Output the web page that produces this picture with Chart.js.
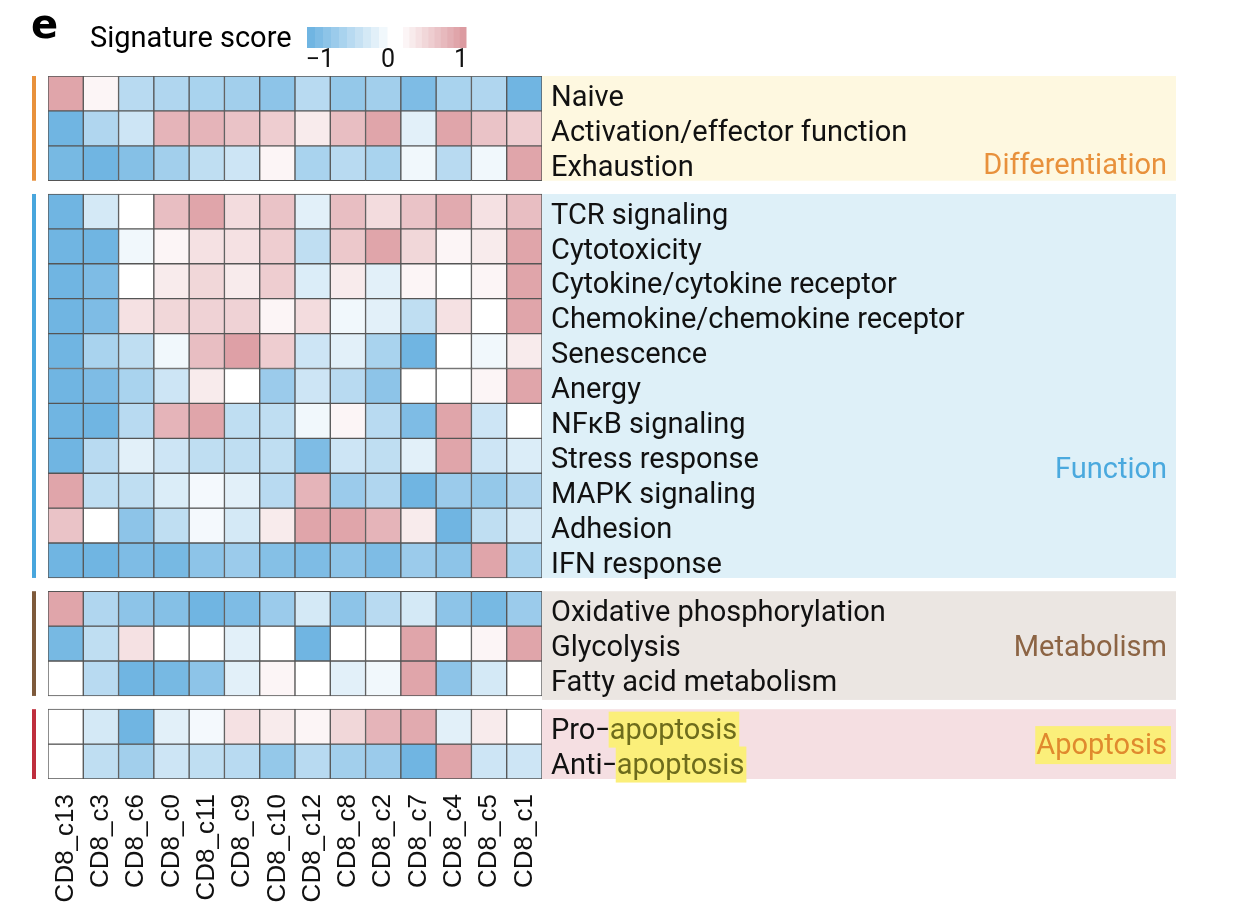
<!DOCTYPE html>
<html><head><meta charset="utf-8">
<script src="https://cdn.jsdelivr.net/npm/chart.js@4/dist/chart.umd.min.js"></script>
<style>html,body{margin:0;padding:0;background:#fff}#wrap{width:1246px;height:924px;position:relative}</style>
</head><body><div id="wrap"><canvas id="c" width="1246" height="924"></canvas></div>
<script>
// ---------------- DATA ----------------
const clusters = ["CD8_c13","CD8_c3","CD8_c6","CD8_c0","CD8_c11","CD8_c9","CD8_c10","CD8_c12","CD8_c8","CD8_c2","CD8_c7","CD8_c4","CD8_c5","CD8_c1"];
const groupNames = ["Differentiation","Function","Metabolism","Apoptosis"];

const differentiationRows = ["Naive","Activation/effector function","Exhaustion"];
const differentiationScores = [
  [0.9, 0.1,-0.5,-0.55,-0.6,-0.65,-0.8,-0.5,-0.75,-0.65,-0.9,-0.6,-0.55,-1],
  [-1,-0.55,-0.35,0.75,0.75,0.6,0.5,0.2,0.65,0.9,-0.2,0.9,0.6,0.5],
  [-0.95,-1,-0.85,-0.65,-0.45,-0.35,0.1,-0.6,-0.5,-0.6,-0.1,-0.5,-0.1,0.9]
];

const functionRows = ["TCR signaling","Cytotoxicity","Cytokine/cytokine receptor","Chemokine/chemokine receptor","Senescence","Anergy","NF\u03BAB signaling","Stress response","MAPK signaling","Adhesion","IFN response"];
const functionScores = [
  [-1,-0.3,0,0.65,0.9,0.35,0.6,-0.2,0.65,0.35,0.6,0.85,0.3,0.65],
  [-1,-1,-0.1,0.1,0.3,0.3,0.5,-0.45,0.55,0.9,0.4,0.1,0.2,0.9],
  [-1,-0.9,0,0.2,0.4,0.2,0.5,-0.25,0.2,-0.2,0.1,0,0.1,0.9],
  [-1,-0.9,0.3,0.4,0.45,0.45,0.1,0.35,-0.1,-0.2,-0.45,0.3,0,0.9],
  [-1,-0.6,-0.45,-0.1,0.65,0.95,0.5,-0.35,-0.2,-0.6,-1,0,-0.1,0.2],
  [-1,-0.9,-0.6,-0.35,0.2,0,-0.7,-0.35,-0.5,-0.8,0,0,0.1,0.9],
  [-1,-1,-0.5,0.75,0.9,-0.45,-0.45,-0.1,0.1,-0.5,-0.9,0.9,-0.35,0],
  [-1,-0.5,-0.2,-0.35,-0.45,-0.45,-0.45,-0.9,-0.35,-0.45,-0.2,0.9,-0.35,-0.25],
  [0.9,-0.45,-0.45,-0.25,-0.08,-0.2,-0.5,0.75,-0.7,-0.55,-1,-0.7,-0.75,-0.55],
  [0.6,0,-0.8,-0.45,-0.08,-0.3,0.2,0.9,0.9,0.75,0.2,-1,-0.45,-0.3],
  [-1,-1,-0.9,-0.95,-0.8,-0.7,-0.85,-0.9,-0.8,-0.9,-0.7,-0.8,0.9,-0.6]
];

const metabolismRows = ["Oxidative phosphorylation","Glycolysis","Fatty acid metabolism"];
const metabolismScores = [
  [0.9,-0.55,-0.8,-0.85,-1,-0.9,-0.7,-0.3,-0.8,-0.5,-0.3,-0.8,-0.95,-0.7],
  [-0.95,-0.45,0.3,0,0,-0.2,0,-1,0,0,0.9,0,0.1,0.9],
  [0,-0.5,-1,-0.95,-0.8,-0.2,0.1,0,-0.2,-0.1,0.9,-0.8,-0.3,0]
];

const apoptosisRows = ["Pro\u2013apoptosis","Anti\u2013apoptosis"];
const apoptosisScores = [
  [0,-0.3,-1,-0.2,-0.08,0.3,0.2,0.1,0.4,0.75,0.85,-0.2,0.2,0],
  [0,-0.45,-0.65,-0.35,-0.45,-0.5,-0.75,-0.5,-0.65,-0.7,-1,0.9,-0.35,-0.35]
];

const legendTicks = [-1, 0, 1];

// ---------------- STYLE / LAYOUT ----------------
const groups = [
  {name:groupNames[0], rows:differentiationRows, scores:differentiationScores, bar:"#e8913c", panel:"#fef8e0", text:"#e8913c", labelAt:2.5},
  {name:groupNames[1], rows:functionRows, scores:functionScores, bar:"#48a6dd", panel:"#def0f8", text:"#4aa9de", labelAt:7.85},
  {name:groupNames[2], rows:metabolismRows, scores:metabolismScores, bar:"#7e5a3b", panel:"#ebe6e2", text:"#8c6444", labelAt:1.55},
  {name:groupNames[3], rows:apoptosisRows, scores:apoptosisScores, bar:"#bf2e3d", panel:"#f5dfe2", text:"#e08a2e", labelAt:1.0}
];
const GAP = 0.38;
const BLUE = [112,181,226], RED = [220,155,161];
function colorFor(v){
  v = Math.max(-1, Math.min(1, v));
  const e = v < 0 ? BLUE : RED, t = Math.abs(v);
  const c = e.map(x => Math.round(255 + (x - 255) * t));
  return `rgb(${c[0]},${c[1]},${c[2]})`;
}

const rowInfo = [];
let pos = 0;
groups.forEach((g, gi) => {
  g.start = pos;
  g.rows.forEach((name, ri) => {
    rowInfo.push({name, y0: pos, y1: pos + 1, scores: g.scores[ri], group: gi});
    pos += 1;
  });
  g.end = pos;
  pos += GAP;
});
const total = pos - GAP;

const datasets = rowInfo.map(r => ({
  label: r.name,
  data: clusters.map(() => [r.y0, r.y1]),
  backgroundColor: r.scores.map(colorFor),
  borderColor: "#555",
  borderWidth: 1,
  borderSkipped: false,
  barPercentage: 1,
  categoryPercentage: 1,
  grouped: false
}));

const FONT = "Roboto, 'Noto Sans', sans-serif";
const HL = "#fbef7a";

const deco = {
  id: "deco",
  beforeDatasetsDraw(chart) {
    const ctx = chart.ctx, y = chart.scales.y, area = chart.chartArea;
    ctx.save();
    groups.forEach((g, gi) => {
      const top = y.getPixelForValue(g.start), bot = y.getPixelForValue(g.end);
      ctx.fillStyle = g.panel;
      ctx.fillRect(area.right, top, 1176 - area.right, bot - top + (gi === 2 ? 4 : 0));
      ctx.fillStyle = g.bar;
      ctx.fillRect(32, top, 4, bot - top);
    });
    // legend
    ctx.fillStyle = "#000";
    ctx.font = "bold 40px 'DejaVu Sans', sans-serif";
    ctx.textBaseline = "alphabetic";
    ctx.fillText("e", 31, 38);
    ctx.font = "29px " + FONT;
    ctx.textBaseline = "middle";
    ctx.fillText("Signature score", 90, 40);
    const nStep = 10;
    const bw = 80 / nStep;
    for (let i = 0; i < nStep; i++) {
      ctx.fillStyle = colorFor(-1 + i * 0.1);
      ctx.fillRect(307 + i * bw, 27, bw + 0.5, 21);
    }
    const rw = 63 / nStep;
    for (let i = 0; i < nStep; i++) {
      ctx.fillStyle = colorFor(0.1 + i * 0.1);
      ctx.fillRect(403 + i * rw, 27, rw + 0.5, 21);
    }
    ctx.fillStyle = "#111";
    ctx.font = "25px " + FONT;
    ctx.textAlign = "center";
    const tickX = {"-1": 320, "0": 388, "1": 461};
    legendTicks.forEach(t => {
      ctx.fillText(t < 0 ? "\u2212" + Math.abs(t) : String(t), tickX[String(t)], 61);
    });
    ctx.restore();
  },
  afterDatasetsDraw(chart) {
    const ctx = chart.ctx, y = chart.scales.y, area = chart.chartArea;
    ctx.save();
    ctx.font = "29px " + FONT;
    ctx.textBaseline = "middle";
    ctx.textAlign = "left";
    const lx = area.right + 9;
    rowInfo.forEach(r => {
      const cy = y.getPixelForValue((r.y0 + r.y1) / 2) + 5;
      const m = r.name.match(/^(.*)\u2013(apoptosis)$/);
      if (m) {
        ctx.fillStyle = "#111";
        ctx.fillText(m[1], lx, cy);
        const w0 = ctx.measureText(m[1]).width;
        ctx.save();
        ctx.translate(lx + w0, 0);
        ctx.scale(0.75, 1);
        ctx.fillText("\u2013", 0, cy);
        ctx.restore();
        const w1 = w0 + ctx.measureText("\u2013").width * 0.75;
        const w2 = ctx.measureText(m[2]).width;
        ctx.fillStyle = HL;
        ctx.fillRect(lx + w1 - 1, cy - 20, w2 + 3, 36);
        ctx.fillStyle = "#6e6c1c";
        ctx.fillText(m[2], lx + w1, cy);
      } else {
        ctx.fillStyle = "#111";
        ctx.fillText(r.name, lx, cy);
      }
    });
    ctx.font = "29px " + FONT;
    ctx.textAlign = "right";
    groups.forEach(g => {
      const cy = y.getPixelForValue(g.start + g.labelAt) + 3;
      if (g.name === "Apoptosis") {
        const w = ctx.measureText(g.name).width;
        ctx.fillStyle = HL;
        ctx.fillRect(1169 - w - 3, cy - 21, w + 5, 38);
      }
      ctx.fillStyle = g.text;
      ctx.fillText(g.name, 1167, cy);
    });
    ctx.restore();
  }
};

new Chart(document.getElementById("c"), {
  type: "bar",
  data: { labels: clusters, datasets },
  options: {
    responsive: false,
    animation: false,
    devicePixelRatio: 1,
    layout: { padding: { left: 48, right: 1246 - 542, top: 76, bottom: 0 } },
    plugins: { legend: { display: false }, tooltip: { enabled: false } },
    scales: {
      x: {
        type: "category",
        grid: { display: false, drawTicks: false },
        border: { display: false },
        ticks: { autoSkip: false, minRotation: 90, maxRotation: 90, padding: 15, color: "#111", font: { family: "'Liberation Sans', Arial, sans-serif", size: 26 } },
        afterFit(s) { s.height = 145; }
      },
      y: {
        type: "linear", display: false, reverse: true, min: 0, max: total
      }
    }
  },
  plugins: [deco]
});
</script></body></html>
